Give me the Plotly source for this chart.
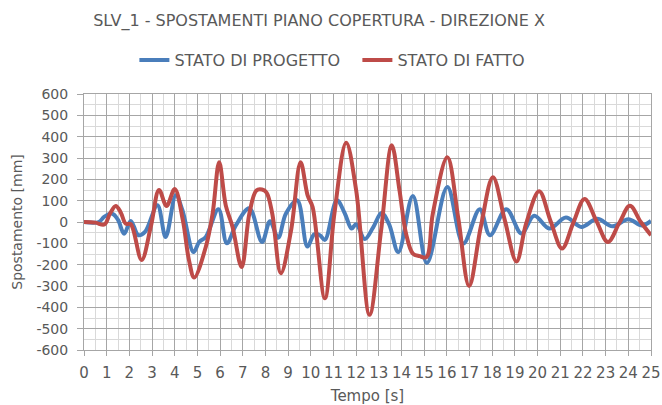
import plotly.graph_objects as go

# --- data ---------------------------------------------------------------
t_progetto = [0, 0.65, 0.9, 1.25, 1.5, 1.77, 2.06, 2.4, 2.7, 3.24, 3.6, 4.05, 4.34,
              4.83, 5.08, 5.37, 5.93, 6.3, 6.7, 7.29, 7.85, 8.2, 8.56, 8.9, 9.4,
              9.85, 10.15, 10.4, 10.62, 11.15, 11.5, 11.8, 12.0, 12.38, 12.75,
              13.12, 13.45, 13.86, 14.5, 15.12, 16.02, 16.72, 17.45, 17.9, 18.62,
              19.29, 19.85, 20.52, 21.25, 21.93, 22.63, 23.3, 24.0, 24.6, 25]
v_progetto = [0, 0, 25, 39, 10, -55, 5, -62, -45, 78, -70, 125, 55,
              -141, -94, -70, 60, -100, -15, 64, -94, 3, -74, 39, 102,
              -115, -58, -62, -84, 102, 40, -31, -10, -80, -25,
              42, -10, -141, 122, -192, 164, -101, 60, -62, 60,
              -54, 29, -31, 21, -23, 15, -20, 13, -16, 5]

t_fatto = [0, 0.5, 0.9, 1.15, 1.4, 1.62, 1.84, 2.06, 2.54, 2.95, 3.31, 3.64, 4.0,
           4.36, 4.63, 4.86, 5.37, 5.67, 5.96, 6.25, 6.55, 6.95, 7.29, 7.6, 7.85,
           8.05, 8.3, 8.68, 9.13, 9.55, 9.86, 10.08, 10.62, 11.04, 11.56, 12.0,
           12.59, 13.1, 13.57, 13.91, 14.2, 14.5, 14.8, 15.1, 15.38, 16.02, 16.5,
           16.98, 17.5, 18.03, 18.55, 19.07, 19.5, 20.07, 20.57, 21.08, 21.57,
           22.07, 22.6, 23.1, 23.6, 24.07, 24.55, 25]
v_fatto = [0, -3, -12, 40, 75, 45, -8, -10, -178, -20, 150, 75, 155,
           8, -180, -260, -117, 39, 280, 78, -23, -211, 39, 148, 152,
           138, 40, -240, -39, 280, 125, 70, -358, 39, 372, 149,
           -435, -39, 360, 149, -55, -148, -160, -165, 39, 303, 20,
           -300, -20, 210, 10, -185, -5, 144, 5, -124, -5,
           108, 3, -94, -5, 76, 0, -62]

y_tickvals = list(range(-600, 601, 100))
y_ticktext = [str(v) for v in y_tickvals]
x_tickvals = list(range(0, 26))
x_ticktext = [str(v) for v in x_tickvals]

FONT = "DejaVu Sans"
GREY = "#595959"

fig = go.Figure()
fig.add_trace(go.Scatter(x=t_progetto, y=v_progetto, mode="lines",
                         name="STATO DI PROGETTO",
                         line=dict(color="#4a7ebb", width=4, shape="spline", smoothing=1)))
fig.add_trace(go.Scatter(x=t_fatto, y=v_fatto, mode="lines",
                         name="STATO DI FATTO",
                         line=dict(color="#be4b48", width=4, shape="spline", smoothing=1)))

fig.update_layout(
    width=662, height=405,
    margin=dict(l=84, r=11, t=94, b=55, autoexpand=False),
    paper_bgcolor="white", plot_bgcolor="white",
    font=dict(family=FONT, color=GREY, size=13),
    title=dict(text="SLV_1 - SPOSTAMENTI PIANO COPERTURA - DIREZIONE X",
               x=0.482, xref="container", xanchor="center",
               y=1 - 20 / 405, yref="container", yanchor="middle",
               font=dict(family=FONT, size=16, color=GREY)),
    legend=dict(orientation="h", x=0.203, xref="container", xanchor="left",
                y=1 - 60 / 405, yref="container", yanchor="middle",
                font=dict(family=FONT, size=16, color=GREY),
                entrywidth=178, entrywidthmode="pixels",
                bgcolor="rgba(0,0,0,0)"),
    showlegend=True,
)

fig.update_xaxes(
    range=[0, 25], tickvals=x_tickvals, ticktext=x_ticktext,
    showgrid=True, gridcolor="#a6a6a6", gridwidth=1,
    minor=dict(dtick=0.5, tick0=0, showgrid=True, gridcolor="#d9d9d9", ticks=""),
    showline=True, linecolor="#a6a6a6", mirror=True,
    ticks="outside", ticklen=5, tickcolor="#a6a6a6",
    tickfont=dict(family=FONT, size=15, color=GREY),
    ticklabelstandoff=4, automargin=False,
    zeroline=False,
    title=dict(text="Tempo [s]", standoff=12, font=dict(family=FONT, size=15, color=GREY)),
)
fig.update_yaxes(
    range=[-600, 600], tickvals=y_tickvals, ticktext=y_ticktext,
    showgrid=True, gridcolor="#a6a6a6", gridwidth=1,
    minor=dict(dtick=50, tick0=0, showgrid=True, gridcolor="#d9d9d9", ticks=""),
    showline=True, linecolor="#a6a6a6", mirror=True,
    ticks="outside", ticklen=6, tickcolor="#a6a6a6",
    tickfont=dict(family=FONT, size=14, color=GREY),
    ticklabelstandoff=6,
    automargin=False,
    zeroline=False,
    title=dict(text="Spostamento [mm]", standoff=10, font=dict(family=FONT, size=14, color=GREY)),
)

fig.write_html("out.html", config={"displayModeBar": False},
               post_script="document.body.style.margin='0';document.body.style.overflow='hidden';")
